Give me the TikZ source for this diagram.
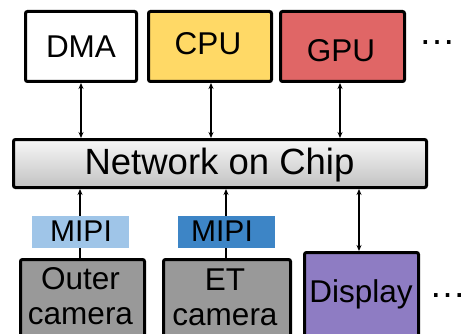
\documentclass[tikz,border=0pt]{standalone}
\usepackage{fontspec}
\setmainfont{Liberation Sans}
\usetikzlibrary{arrows.meta}

\definecolor{cpufill}{HTML}{FFD966}
\definecolor{gpufill}{HTML}{E06666}
\definecolor{dispfill}{HTML}{8E7CC3}
\definecolor{camfill}{HTML}{999999}
\definecolor{mipilight}{HTML}{9FC5E8}
\definecolor{mipidark}{HTML}{3D85C6}

\tikzset{
  unit/.style={draw=black, line width=3pt, rounded corners=2pt, inner sep=0pt},
  lbl/.style={inner sep=0pt, anchor=base, font=\fontsize{31.5}{35}\selectfont},
  biglbl/.style={inner sep=0pt, anchor=base, font=\fontsize{36.5}{40}\selectfont},
  mipi/.style={inner sep=0pt, minimum width=97pt, minimum height=32pt},
  dots/.style={inner sep=0pt, anchor=base, font=\fontsize{37}{40}\selectfont},
  link/.style={line width=1.3pt, {Stealth[length=6pt,width=5pt]}-{Stealth[length=6pt,width=5pt]}},
  uplink/.style={line width=1.3pt, -{Stealth[length=6pt,width=5pt]}}
}

\begin{document}
\begin{tikzpicture}[x=1pt, y=-1pt]
\useasboundingbox (0,0) rectangle (465,334);
\clip (0,0) rectangle (465,334);

% processing units on top
\node[unit, fill=white,   minimum width=111pt, minimum height=70pt] (dma) at (81,46.5) {};
\node[unit, fill=cpufill, minimum width=123pt, minimum height=70pt] (cpu) at (210,46.5) {};
\node[unit, fill=gpufill, minimum width=124pt, minimum height=70pt] (gpu) at (342.5,46.5) {};
\node[lbl] (dmat) at (81,58) {DMA};
\node[lbl] (cput) at (208,55) {CPU};
\node[lbl] (gput) at (341,62) {GPU};
\node[dots] (topdots) at (437,45) {\makebox[0pt]{…}};

% interconnect
\node[unit, top color=white!97!black, bottom color=black!24, minimum width=413pt, minimum height=48pt] (noc) at (220,163.5) {};
\node[biglbl] (noct) at (219.5,174) {Network on Chip};

% peripherals at the bottom (running past the lower edge)
\node[unit, fill=camfill,  minimum width=124pt, minimum height=150pt] (outer) at (82.5,334.5) {};
\node[unit, fill=camfill,  minimum width=127pt, minimum height=150pt] (et) at (227,334.5) {};
\node[unit, fill=dispfill, minimum width=114pt, minimum height=150pt] (disp) at (361.5,327.5) {};
\node[lbl] (outera) at (80.5,289) {Outer};
\node[lbl] (outerb) at (80.5,324) {camera};
\node[lbl] (eta) at (225,290) {ET};
\node[lbl] (etb) at (225,325) {camera};
\node[lbl] (dispt) at (361,302) {Display};
\node[dots] (botdots) at (447.5,297) {\makebox[0pt]{…}};

% connections
\draw[link] (dma.south) -- (dma.south |- noc.north);
\draw[link] ([xshift=1pt]cpu.south) -- ([xshift=1pt]cpu.south |- noc.north);
\draw[link] ([xshift=-2.5pt]gpu.south) -- ([xshift=-2.5pt]gpu.south |- noc.north);
\draw[uplink] ([xshift=-2.5pt]outer.north) -- ([xshift=-2.5pt]outer.north |- noc.south);
\draw[uplink] ([xshift=-1pt]et.north) -- ([xshift=-1pt]et.north |- noc.south);
\draw[link] ([xshift=-2.5pt]disp.north) -- ([xshift=-2.5pt]disp.north |- noc.south);

% camera interface tags over the links
\node[mipi, fill=mipilight] (mipia) at (80.5,232) {};
\node[mipi, fill=mipidark]  (mipib) at (226.5,232) {};
\node[lbl, font=\fontsize{30}{34}\selectfont] (mipiat) at (81,241) {MIPI};
\node[lbl, font=\fontsize{30}{34}\selectfont] (mipibt) at (222,241) {MIPI};
\end{tikzpicture}
\end{document}
